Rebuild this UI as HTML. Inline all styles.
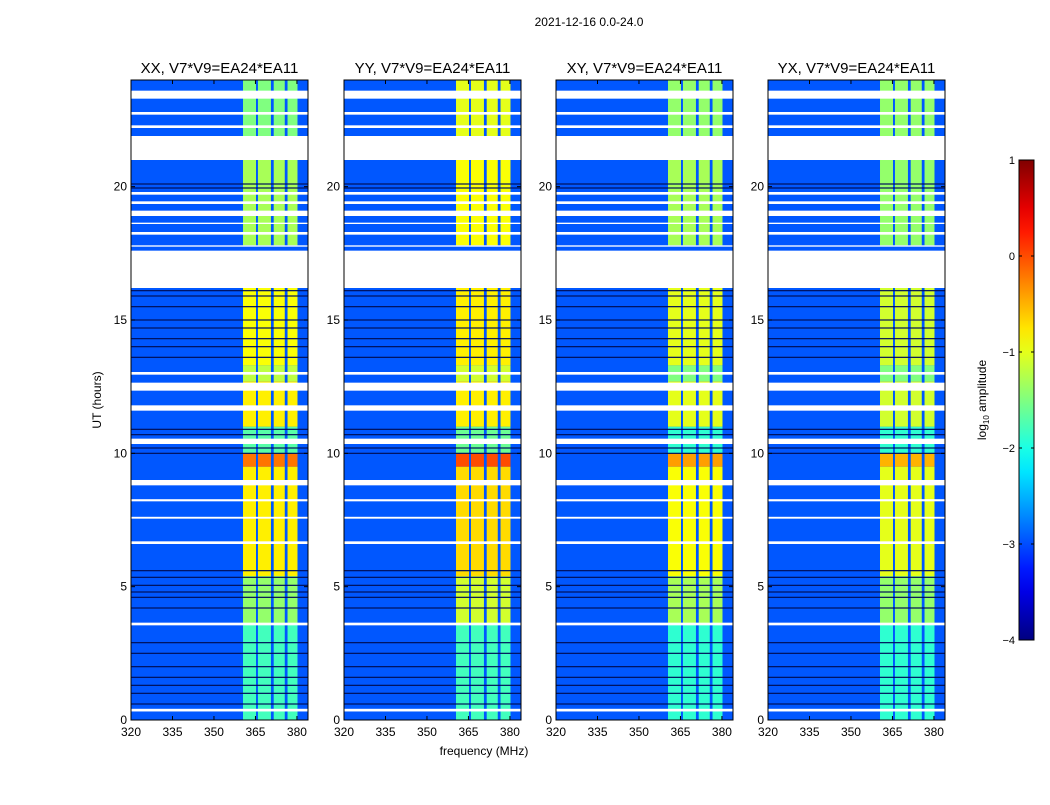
<!DOCTYPE html>
<html><head><meta charset="utf-8">
<style>
html,body{margin:0;padding:0;background:#fff;}
body{width:1050px;height:800px;overflow:hidden;font-family:"Liberation Sans",sans-serif;}
</style></head>
<body>
<svg id="fig" width="1050" height="800" xmlns="http://www.w3.org/2000/svg">
<text x="589" y="26" font-size="12" text-anchor="middle" font-family="Liberation Sans, sans-serif">2021-12-16 0.0-24.0</text>
<text x="484" y="755" font-size="12" text-anchor="middle" font-family="Liberation Sans, sans-serif">frequency (MHz)</text>
<text transform="translate(101,400) rotate(-90)" font-size="12" text-anchor="middle" font-family="Liberation Sans, sans-serif">UT (hours)</text>
<g id="panels"></g>
<g id="cbar"></g>
</svg>
<script>
// ---- data ----
const panelTitles = ["XX, V7*V9=EA24*EA11","YY, V7*V9=EA24*EA11","XY, V7*V9=EA24*EA11","YX, V7*V9=EA24*EA11"];
const xTicks = [320,335,350,365,380];
const yTicks = [0,5,10,15,20];
const cbTicks = [1,0,-1,-2,-3,-4];
const backgroundLevel = -2.95;
// flagged (white) time ranges in hours [start,end]
const flaggedStart = [0.32,3.55,6.6,7.55,8.2,8.8,10.35,11.6,12.35,12.95,16.2,17.75,18.2,18.6,18.9,19.35,19.7,21.0,22.2,22.7,23.3];
const flaggedEnd   = [0.42,3.65,6.7,7.62,8.28,9.0,10.55,11.8,12.65,13.05,17.6,17.8,18.3,18.65,19.1,19.45,19.8,21.9,22.3,22.8,23.6];
// dark (low amplitude) time lines
const darkLines = [0.6,1.0,1.3,1.6,2.0,2.5,2.9,4.2,4.6,4.8,5.05,5.35,5.6,10.0,10.2,10.7,10.9,13.6,14.0,14.3,14.7,15.0,15.5,15.9,16.1,19.95,20.1];
// signal sub-bands in MHz
const bandStart = [360.5,365.9,371.6,376.6];
const bandEnd   = [365.2,370.6,375.6,380.2];
// signal level time segments (hours) and per-panel log10 amplitude
const segStart = [0,3.6,5.4,9.5,10.0,11.0,12.7,13.3,17.8,21.9];
const segEnd   = [3.6,5.4,9.5,10.0,11.0,12.7,13.3,16.2,21.0,24];
const levelsXX = [-1.8,-1.4,-0.8,-0.2,-1.7,-0.8,-1.2,-0.9,-1.3,-1.5];
const levelsYY = [-1.8,-1.1,-0.7,0.0,-1.6,-0.8,-1.1,-0.8,-0.9,-1.0];
const levelsXY = [-1.9,-1.3,-0.9,-0.4,-1.9,-1.0,-1.5,-1.0,-1.3,-1.4];
const levelsYX = [-1.9,-1.4,-1.0,-0.5,-1.9,-1.1,-1.5,-1.1,-1.4,-1.4];
const panelLevels = [levelsXX,levelsYY,levelsXY,levelsYX];

// ---- layout ----
const panelX = [131,344,556,768], panelW = 177, plotTop = 80, plotBottom = 720;
const fMin = 320, fMax = 384, tMin = 0, tMax = 24;
const NS = "http://www.w3.org/2000/svg";
function xs(p,f){return panelX[p] + (f-fMin)/(fMax-fMin)*panelW;}
function ys(h){return plotBottom - (h-tMin)/(tMax-tMin)*(plotBottom-plotTop);}
function clamp(v){return Math.max(0,Math.min(1,v));}
function jet(v){const t=(v+4)/5;const r=clamp(1.5-Math.abs(4*t-3)),g=clamp(1.5-Math.abs(4*t-2)),b=clamp(1.5-Math.abs(4*t-1));
 return `rgb(${Math.round(r*255)},${Math.round(g*255)},${Math.round(b*255)})`;}
function mk(tag,attrs,parent){const e=document.createElementNS(NS,tag);for(const k in attrs)e.setAttribute(k,attrs[k]);parent.appendChild(e);return e;}

const G = document.getElementById('panels');
for(let p=0;p<4;p++){
  const g = mk('g',{},G);
  
  
  const bg = mk('rect',{x:panelX[p],y:plotTop,width:panelW,height:plotBottom-plotTop,fill:jet(backgroundLevel)},g);
  
  
  for(let s=0;s<segStart.length;s++){
    for(let b=0;b<bandStart.length;b++){
      const r = mk('rect',{x:xs(p,bandStart[b]),y:ys(segEnd[s]),width:xs(p,bandEnd[b])-xs(p,bandStart[b]),height:ys(segStart[s])-ys(segEnd[s]),fill:jet(panelLevels[p][s])},g);
      
      
    }
  }
  for(const d of darkLines){
    const l = mk('rect',{x:panelX[p],y:ys(d)-0.6,width:panelW,height:1.2,fill:'#00105a'},g);
    
    
  }
  for(let i=0;i<flaggedStart.length;i++){
    const r = mk('rect',{x:panelX[p],y:ys(flaggedEnd[i]),width:panelW,height:ys(flaggedStart[i])-ys(flaggedEnd[i]),fill:'#fff'},g);
    
    
  }
  const fr = mk('rect',{x:panelX[p],y:plotTop,width:panelW,height:plotBottom-plotTop,fill:'none',stroke:'#000','stroke-width':1},g);
  
  
  const tt = mk('text',{x:panelX[p]+panelW/2,y:plotTop-7,'font-size':15,'text-anchor':'middle','font-family':'Liberation Sans, sans-serif'},g);
  tt.textContent = panelTitles[p];
  
  
  for(const f of xTicks){
    const x=xs(p,f);
    mk('line',{x1:x,x2:x,y1:plotBottom,y2:plotBottom-4,stroke:'#000'},g);
    mk('line',{x1:x,x2:x,y1:plotTop,y2:plotTop+4,stroke:'#000'},g);
    const t = mk('text',{x:x,y:plotBottom+16,'font-size':12,'text-anchor':'middle','font-family':'Liberation Sans, sans-serif'},g);
    t.textContent=f;
    
    
  }
  for(const h of yTicks){
    const y=ys(h);
    mk('line',{x1:panelX[p],x2:panelX[p]+4,y1:y,y2:y,stroke:'#000'},g);
    mk('line',{x1:panelX[p]+panelW,x2:panelX[p]+panelW-4,y1:y,y2:y,stroke:'#000'},g);
    const t = mk('text',{x:panelX[p]-4,y:y+4,'font-size':12,'text-anchor':'end','font-family':'Liberation Sans, sans-serif'},g);
    t.textContent=h;
    
    
  }
}
// colorbar
const C = document.getElementById('cbar');
const cbX=1019,cbW=15,cbTop=160,cbBot=640;
function cy(v){return cbBot-(v+4)/5*(cbBot-cbTop);}
const grad = mk('defs',{},C);
const lg = mk('linearGradient',{id:'jetg',x1:0,y1:1,x2:0,y2:0},grad);
for(let i=0;i<=20;i++){mk('stop',{offset:i/20,'stop-color':jet(-4+5*i/20)},lg);}
const cb = mk('rect',{x:cbX,y:cbTop,width:cbW,height:cbBot-cbTop,fill:'url(#jetg)',stroke:'#000','stroke-width':1},C);


for(const v of cbTicks){
  const y=cy(v);
  mk('line',{x1:cbX,x2:cbX+3,y1:y,y2:y,stroke:'#000'},C);
  mk('line',{x1:cbX+cbW,x2:cbX+cbW-3,y1:y,y2:y,stroke:'#000'},C);
  const t = mk('text',{x:cbX-4,y:y+4,'font-size':11,'text-anchor':'end','font-family':'Liberation Sans, sans-serif'},C);
  t.textContent = v<0 ? '\u2212'+(-v) : v;
  
  
}
const cl = mk('text',{transform:'translate(986,400) rotate(-90)','font-size':12,'text-anchor':'middle','font-family':'Liberation Sans, sans-serif'},C);
cl.innerHTML = 'log<tspan font-size="8" dy="3">10</tspan><tspan dy="-3"> amplitude</tspan>';


</script>
</body></html>
